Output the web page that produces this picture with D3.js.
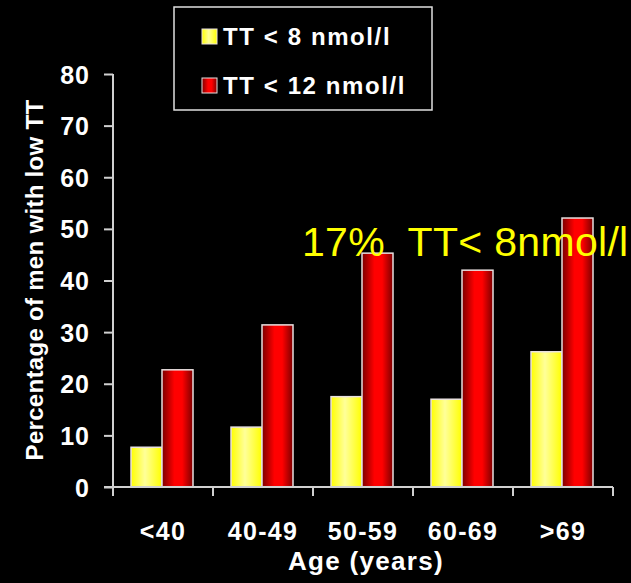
<!DOCTYPE html>
<html>
<head>
<meta charset="utf-8">
<script src="https://cdn.jsdelivr.net/npm/d3@7"></script>
<style>
  body { margin: 0; background: #000; }
  text { font-family: "Liberation Sans", Arial, sans-serif; }
</style>
</head>
<body>
<div id="chart"></div>
<script>
// Chart size
const width = 631;
const height = 583;

// Data
const ageGroups = ["<40", "40-49", "50-59", "60-69", ">69"];
const below8 = [7.7, 11.6, 17.5, 17.0, 26.2];
const below12 = [22.7, 31.4, 45.3, 42.0, 52.1];
const seriesNames = ["TT < 8 nmol/l", "TT < 12 nmol/l"];
const yTicks = [0, 10, 20, 30, 40, 50, 60, 70, 80];

const margin = {left: 113, right: 18, top: 74, bottom: 96};

let svg = d3.select("#chart").append("svg")
    .attr("width", width)
    .attr("height", height)
    .style("background", "#000")

// gradients for the bars
let defs = svg.append("defs")
let yellowGrad = defs.append("linearGradient").attr("id", "gradYellow")
yellowGrad.append("stop").attr("offset", "0%").attr("stop-color", "#ffff00")
yellowGrad.append("stop").attr("offset", "45%").attr("stop-color", "#ffff99")
yellowGrad.append("stop").attr("offset", "100%").attr("stop-color", "#ffff00")

let redGrad = defs.append("linearGradient").attr("id", "gradRed")
redGrad.append("stop").attr("offset", "0%").attr("stop-color", "#7a0000")
redGrad.append("stop").attr("offset", "40%").attr("stop-color", "#ff0000")
redGrad.append("stop").attr("offset", "65%").attr("stop-color", "#ff0000")
redGrad.append("stop").attr("offset", "100%").attr("stop-color", "#7a0000")

let x = d3.scaleBand()
    .domain(ageGroups)
    .range([margin.left, width - margin.right])

let inner = d3.scaleBand()
    .domain([0, 1])
    .range([18, 80])

let y = d3.scaleLinear()
    .domain([0, 80])
    .range([height - margin.bottom, margin.top])

// bars
const fills = ["url(#gradYellow)", "url(#gradRed)"];
[below8, below12].forEach(function(series, s) {
    svg.append("g").selectAll("rect")
        .data(series)
        .enter()
        .append("rect")
        .attr("x", function(d, i) { return x(ageGroups[i]) + inner(s) })
        .attr("y", function(d) { return y(d) })
        .attr("width", inner.bandwidth())
        .attr("height", function(d) { return y(0) - y(d) })
        .style("fill", fills[s])
        .style("stroke", "#e8e0e0")
        .style("stroke-width", 1.5)
})

// y axis
let yAxis = svg.append("g")
    .attr("transform", "translate(" + margin.left + ",0)")
    .call(d3.axisLeft(y).tickValues(yTicks).tickSize(9).tickPadding(14))
yAxis.selectAll("path, line").style("stroke", "#d0d0d0").style("stroke-width", 2)
yAxis.select(".domain").attr("d", "M0," + y(80) + "V" + y(0))
yAxis.selectAll("text")
    .style("fill", "#fff")
    .style("font-size", "25px")
    .style("font-weight", "bold")
    .style("letter-spacing", "1px")
    .attr("dy", "0.36em")

// x axis (ticks sit on the band edges)
let xAxis = svg.append("g")
    .attr("transform", "translate(0," + y(0) + ")")
xAxis.append("line")
    .attr("x1", margin.left - 9).attr("x2", width - margin.right)
    .style("stroke", "#d0d0d0").style("stroke-width", 2)
xAxis.selectAll(".edge")
    .data(ageGroups.map(function(d) { return x(d) }).concat([x.range()[1]]))
    .enter()
    .append("line")
    .attr("x1", function(d) { return d }).attr("x2", function(d) { return d })
    .attr("y1", 0).attr("y2", 9)
    .style("stroke", "#d0d0d0").style("stroke-width", 2)
xAxis.selectAll(".lbl")
    .data(ageGroups)
    .enter()
    .append("text")
    .attr("x", function(d) { return x(d) + x.bandwidth() / 2 })
    .attr("y", 53)
    .attr("text-anchor", "middle")
    .style("fill", "#fff")
    .style("font-size", "25px")
    .style("font-weight", "bold")
    .style("letter-spacing", "1.3px")
    .text(function(d) { return d })

// axis titles
svg.append("text")
    .attr("x", 366)
    .attr("y", 570)
    .attr("text-anchor", "middle")
    .style("fill", "#fff")
    .style("font-size", "26px")
    .style("font-weight", "bold")
    .style("letter-spacing", "1.3px")
    .text("Age (years)")

svg.append("text")
    .attr("transform", "translate(43,280) rotate(-90)")
    .attr("text-anchor", "middle")
    .style("fill", "#fff")
    .style("font-size", "24px")
    .style("font-weight", "bold")
    .style("letter-spacing", "0.3px")
    .text("Percentage of men with low TT")

// legend
let legend = svg.append("g")
legend.append("rect")
    .attr("x", 174).attr("y", 7)
    .attr("width", 258).attr("height", 103)
    .style("fill", "#000")
    .style("stroke", "#e0e0e0")
    .style("stroke-width", 1.5)
seriesNames.forEach(function(name, s) {
    legend.append("rect")
        .attr("x", 202).attr("y", 29 + s * 49)
        .attr("width", 15).attr("height", 15)
        .style("fill", fills[s])
        .style("stroke", "#e8e0e0")
    legend.append("text")
        .attr("x", 223).attr("y", 45 + s * 49)
        .style("fill", "#fff")
        .style("font-size", "24px")
        .style("font-weight", "bold")
        .style("letter-spacing", "1.6px")
        .text(name)
})

// annotation
svg.append("text")
    .attr("x", 302)
    .attr("y", 256)
    .style("fill", "#ffff00")
    .style("font-size", "41px")
    .style("letter-spacing", "0.3px")
    .style("white-space", "pre")
    .text("17%  TT< 8nmol/l")
</script>
</body>
</html>
